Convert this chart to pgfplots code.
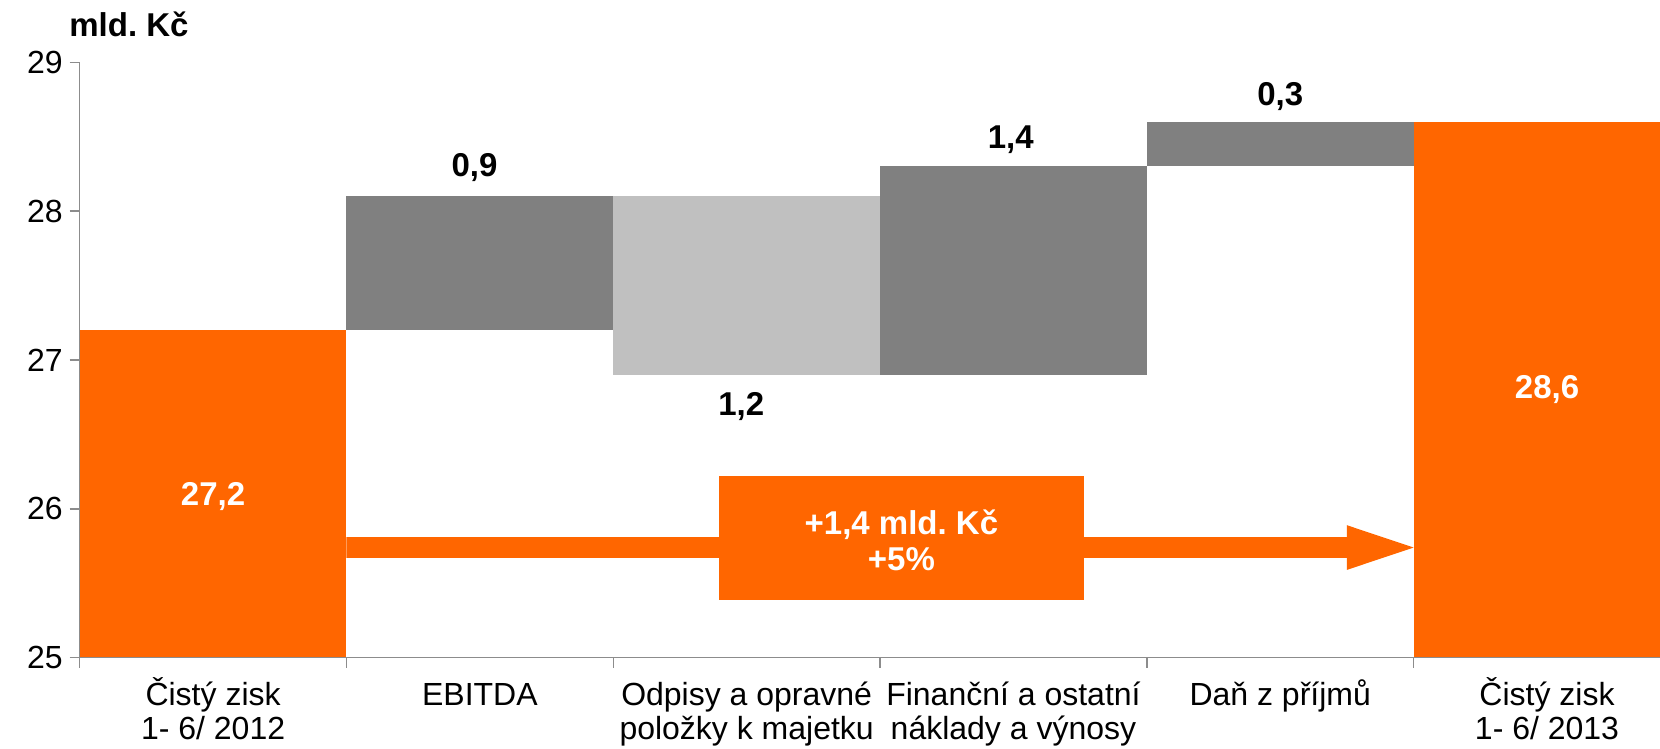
\documentclass[border=0pt]{standalone}
\usepackage{pgfplots}
\pgfplotsset{compat=1.18}
\usepackage{fontspec}
\setmainfont{Liberation Sans}
\definecolor{cezorange}{HTML}{FF6600}
\definecolor{dgray}{HTML}{808080}
\definecolor{lgray}{HTML}{C0C0C0}
\definecolor{axgray}{HTML}{8C8C8C}
\newcommand{\lbl}{\fontsize{16}{17}\selectfont}
\newcommand{\blbl}{\fontsize{16.5}{17}\selectfont\bfseries}
\begin{document}
\begin{tikzpicture}
\begin{axis}[
  scale only axis, width=790.15pt, height=297.7pt,
  xmin=-0.5, xmax=5.4235, ymin=25, ymax=29,
  axis x line*=bottom, axis y line*=left,
  axis line style={axgray, line width=0.7pt},
  axis on top,
  ytick={25,26,27,28,29},
  tick align=outside, major tick length=5pt,
  tick style={axgray, line width=0.7pt},
  xtick={-0.5,0.5,1.5,2.5,3.5,4.5},
  xticklabels={},
  extra x ticks={0,1,2,3,4,5},
  extra x tick labels={{Čistý zisk\\1- 6/ 2012},{EBITDA\\\mbox{}},{Odpisy a opravné\\položky k majetku},{Finanční a ostatní\\náklady a výnosy},{Daň z příjmů\\\mbox{}},{Čistý zisk\\1- 6/ 2013}},
  extra x tick style={major tick length=0pt, xticklabel style={align=center, anchor=base, yshift=-41pt, font=\lbl}},
  /pgf/number format/assume math mode=true,
  yticklabel style={font=\lbl, anchor=east},
  clip=true,
]
% bars: base and top of each block
\addplot[fill=cezorange, draw=none] coordinates {(-0.5,25) (0.5,25) (0.5,27.2) (-0.5,27.2)} -- cycle;
\addplot[fill=dgray, draw=none] coordinates {(0.5,27.2) (1.5,27.2) (1.5,28.1) (0.5,28.1)} -- cycle;
\addplot[fill=lgray, draw=none] coordinates {(1.5,26.9) (2.5,26.9) (2.5,28.1) (1.5,28.1)} -- cycle;
\addplot[fill=dgray, draw=none] coordinates {(2.5,26.9) (3.5,26.9) (3.5,28.3) (2.5,28.3)} -- cycle;
\addplot[fill=dgray, draw=none] coordinates {(3.5,28.3) (4.5,28.3) (4.5,28.6) (3.5,28.6)} -- cycle;
\addplot[fill=cezorange, draw=none] coordinates {(4.5,25) (5.5,25) (5.5,28.6) (4.5,28.6)} -- cycle;
% arrow
\addplot[fill=cezorange, draw=none] coordinates {(0.5,25.67) (4.25,25.67) (4.25,25.59) (4.5,25.74) (4.25,25.89) (4.25,25.81) (0.5,25.81)} -- cycle;
\addplot[fill=cezorange, draw=none] coordinates {(1.897,25.39) (3.266,25.39) (3.266,26.22) (1.897,26.22)} -- cycle;
% labels
\node[font=\blbl] at (axis cs:0.98,28.29) {0,9};
\node[font=\blbl] at (axis cs:1.98,26.69) {1,2};
\node[font=\blbl] at (axis cs:2.99,28.48) {1,4};
\node[font=\blbl] at (axis cs:4,28.77) {0,3};
\node[font=\blbl, text=white] at (axis cs:0,26.08) {27,2};
\node[font=\blbl, text=white] at (axis cs:5,26.80) {28,6};
\node[font=\blbl, text=white, align=center] at (axis cs:2.58,25.79) {+1,4 mld.\ Kč\\[1pt]+5\%};
\end{axis}
\node[font=\blbl, anchor=base west, inner sep=0pt] at (-5.35pt,310.4pt) {mld.\ Kč};
\pgfresetboundingbox
\useasboundingbox (-39.85pt,-45.65pt) rectangle (790.15pt,328.85pt);
\end{tikzpicture}
\end{document}
